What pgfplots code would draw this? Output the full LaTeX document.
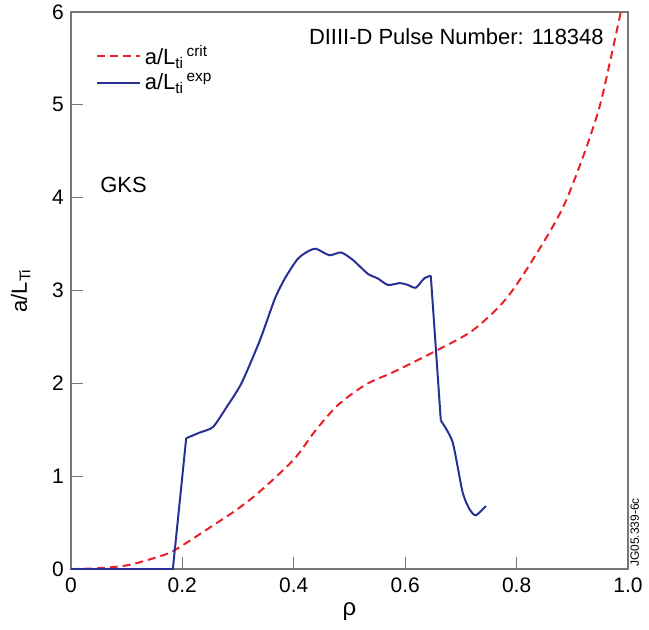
\documentclass[border=0pt]{standalone}
\usepackage{pgfplots}
\pgfplotsset{compat=1.18}
\usepackage{fontspec}
\setmainfont{Liberation Sans}
\definecolor{critred}{RGB}{232,32,40}
\definecolor{expblue}{RGB}{40,48,150}
\definecolor{axgray}{RGB}{120,120,120}
\begin{document}
\begin{tikzpicture}
\begin{axis}[
  scale only axis,
  width=279pt, height=279pt,
  xmin=0, xmax=1, ymin=0, ymax=6,
  axis line style={axgray, line width=0.8pt},
  xtick={0,0.2,0.4,0.6,0.8,1.0},
  xticklabels={0,0.2,0.4,0.6,0.8,1.0},
  ytick={0,1,2,3,4,5,6},
  yticklabels={0,1,2,3,4,5,6},
  tick align=inside,
  xtick pos=bottom, ytick pos=left,
  major tick length=6pt,
  tick style={axgray, line width=0.6pt},
  /pgf/number format/assume math mode=true,
  tick label style={font=\fontsize{10.5}{12}\selectfont},
  xticklabel style={yshift=-1pt},
  xlabel={ρ},
  xlabel style={font=\fontsize{12}{14}\selectfont, yshift=2pt},
  ylabel={a/L\textsubscript{Ti}},
  ylabel style={font=\fontsize{11}{13}\selectfont, yshift=4pt},
  clip=true,
  legend style={draw=none, fill=none, at={(rel axis cs:0.034,0.955)}, anchor=north west,
    font=\fontsize{11}{13}\selectfont, row sep=-1pt},
  legend cell align=left,
  legend image code/.code={\draw[#1] (0cm,0cm) -- (0.75cm,0cm);},
]
\addplot[critred, line width=1pt, dash pattern=on 4pt off 2.5pt, smooth, tension=0.5] coordinates {
(0,0) (0.05,0.01) (0.1,0.04) (0.15,0.12) (0.185,0.2) (0.25,0.45) (0.3,0.65)
(0.34,0.84) (0.4,1.18) (0.44,1.5) (0.48,1.77) (0.53,1.99) (0.578,2.12)
(0.655,2.35) (0.721,2.57) (0.781,2.91) (0.834,3.38) (0.882,3.88) (0.918,4.42)
(0.948,4.96) (0.969,5.5) (0.987,6.0)
};
\addlegendentry{a/L\textsubscript{ti}\textsuperscript{\,crit}}
\addplot[expblue, line width=1pt] coordinates {
(0,0) (0.183,0) (0.207,1.41)
};
\addlegendentry{a/L\textsubscript{ti}\textsuperscript{\,exp}}
\addplot[expblue, line width=1pt, smooth, tension=0.4, forget plot] coordinates {
(0.207,1.41) (0.231,1.47) (0.255,1.53) (0.279,1.74) (0.306,2.0)
(0.339,2.46) (0.366,2.91) (0.385,3.14) (0.407,3.34) (0.425,3.42) (0.44,3.45)
(0.464,3.38) (0.485,3.41) (0.506,3.33) (0.533,3.18) (0.551,3.13) (0.569,3.06)
(0.59,3.08) (0.605,3.06) (0.619,3.03) (0.634,3.13) (0.646,3.16)
};
\addplot[expblue, line width=1pt, forget plot] coordinates {
(0.646,3.16) (0.664,1.6)
};
\addplot[expblue, line width=1pt, smooth, tension=0.4, forget plot] coordinates {
(0.664,1.6) (0.685,1.37) (0.703,0.83) (0.716,0.64) (0.727,0.58) (0.745,0.68)
};
\node[anchor=east, inner sep=0pt, font=\fontsize{11}{13}\selectfont] at (rel axis cs:0.957,0.955) {DIIII-D Pulse Number: 118348};
\node[anchor=west, inner sep=0pt, font=\fontsize{11}{13}\selectfont] at (rel axis cs:0.052,0.69) {GKS};
\end{axis}
\node[rotate=90, anchor=north west, font=\fontsize{6}{7}\selectfont, inner sep=1pt] at (279pt,0) {JG05.339-6c};
\pgfresetboundingbox
\path[use as bounding box] (-35.5pt,-30pt) rectangle (289.5pt,285pt);
\end{tikzpicture}
\end{document}
